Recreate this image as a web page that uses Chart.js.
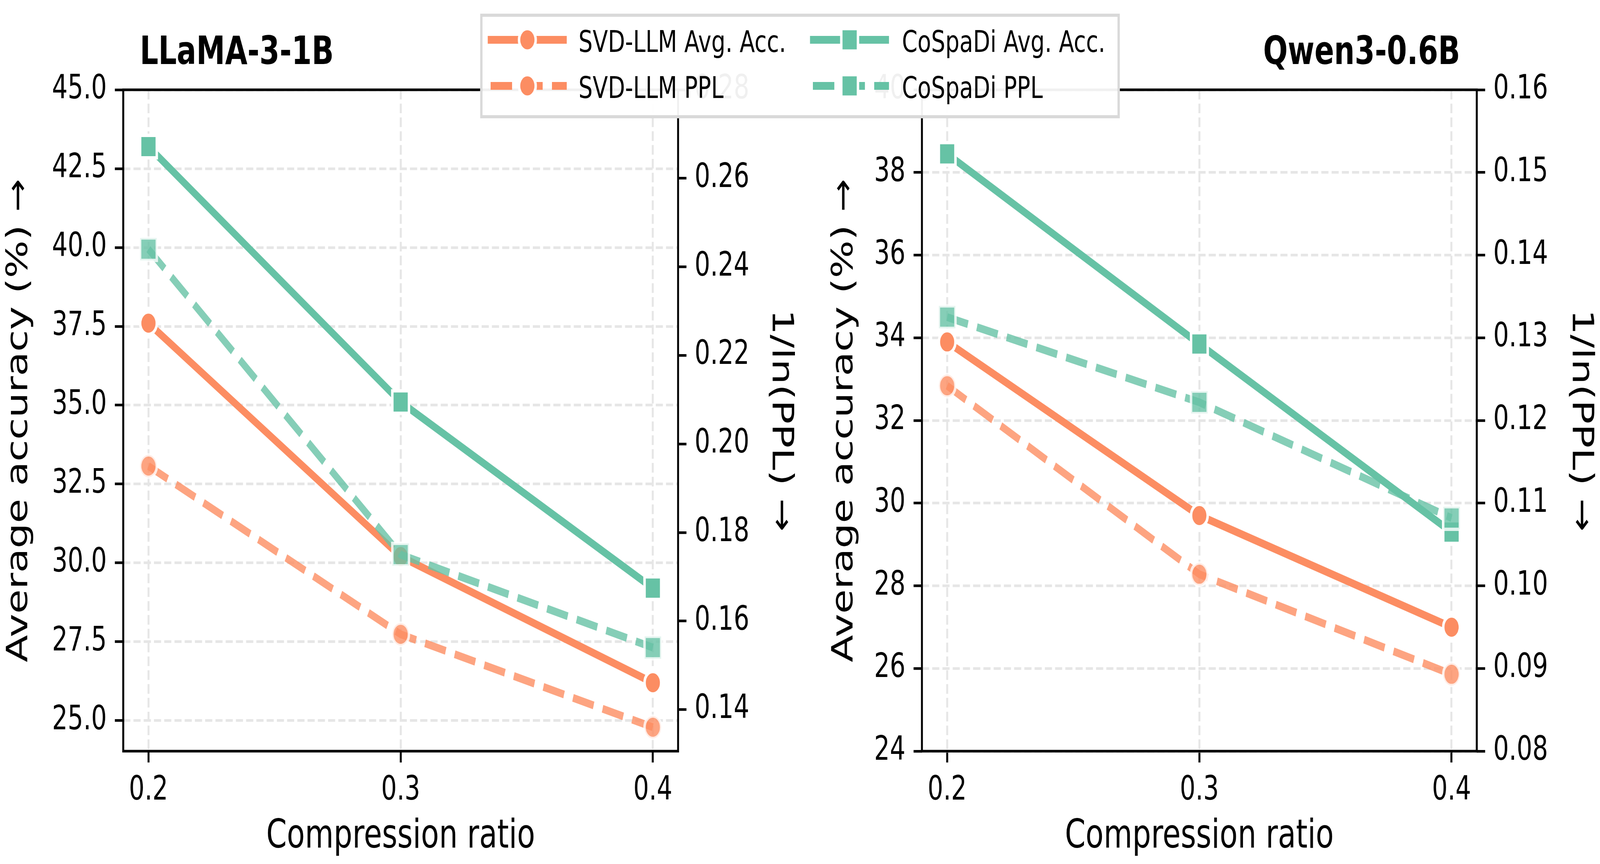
<!DOCTYPE html>
<html>
<head>
<meta charset="utf-8">
<script src="https://cdn.jsdelivr.net/npm/chart.js@4.4.1/dist/chart.umd.min.js"></script>
<style>
  html, body { margin: 0; padding: 0; background: #fff; overflow: hidden; }
  #fig { position: relative; width: 5531px; height: 2213px; overflow: hidden; transform-origin: 0 0; }
  #fig canvas { position: absolute; top: 0; }
  #leyenda { position: absolute; left: 1660px; top: 35px; width: 2211px; height: 268px; box-sizing: border-box;
             border: 8px solid #d9d9d9; background: rgba(255,255,255,0.94); z-index: 2; }
  .etq { position: absolute; font-family: "DejaVu Sans"; font-size: 77px; line-height: 1; white-space: nowrap;
         transform: translateY(-50%); color: #000; z-index: 3; }
  .asa { position: absolute; z-index: 3; }
</style>
</head>
<body>
<div id="fig">
  <canvas id="llama" width="2765" height="2213" style="left:0px"></canvas>
  <canvas id="qwen" width="2766" height="2213" style="left:2765px"></canvas>
  <div id="leyenda"></div>
</div>
<script>
// Datos
const ratios = [0.2, 0.3, 0.4];
const xTicks = [0.2, 0.3, 0.4];

// LLaMA-3-1B
const llamaSvdAcc = [37.6, 30.2, 26.2];
const llamaCospadiAcc = [43.2, 35.1, 29.2];
const llamaSvdPpl = [0.195, 0.157, 0.136];
const llamaCospadiPpl = [0.244, 0.175, 0.154];
const llamaAccTicks = [25, 27.5, 30, 32.5, 35, 37.5, 40, 42.5, 45];
const llamaPplTicks = [0.14, 0.16, 0.18, 0.20, 0.22, 0.24, 0.26, 0.28];

// Qwen3-0.6B
const qwenSvdAcc = [33.9, 29.7, 27.0];
const qwenCospadiAcc = [38.45, 33.85, 29.3];
const qwenSvdPpl = [0.1242, 0.1014, 0.0893];
const qwenCospadiPpl = [0.1325, 0.1222, 0.1082];
const qwenAccTicks = [24, 26, 28, 30, 32, 34, 36, 38, 40];
const qwenPplTicks = [0.08, 0.09, 0.10, 0.11, 0.12, 0.13, 0.14, 0.15, 0.16];

const nombres = ['SVD-LLM Avg. Acc.', 'SVD-LLM PPL', 'CoSpaDi Avg. Acc.', 'CoSpaDi PPL'];

const naranja = '#fc8d62';
const verde = '#66c2a5';
const LW = 20;
const DASH = [74, 32];

// la figura se dibuja a 5531x2213 y se ajusta a toda la ventana
const sx = window.innerWidth / 5531;
const sy = window.innerHeight / 2213;
document.getElementById('fig').style.transform = `scale(${sx}, ${sy})`;

Chart.defaults.font.family = '"DejaVu Sans", sans-serif';
Chart.defaults.color = '#000';

function conAlfa(hex, a) {
    const n = parseInt(hex.slice(1), 16);
    return `rgba(${(n >> 16) & 255},${(n >> 8) & 255},${n & 255},${a})`;
}

// --- Una serie (linea + marcadores) ---
function serie(label, valores, color, estilo, eje, ppl, orden) {
    const a = ppl ? 0.8 : 1;
    return {
        label,
        data: ratios.map((r, i) => ({ x: r, y: valores[i] })),
        yAxisID: eje,
        borderColor: conAlfa(color, a),
        borderWidth: LW,
        borderDash: ppl ? DASH : [],
        borderCapStyle: ppl ? 'butt' : 'square',
        borderJoinStyle: 'round',
        tension: 0,
        pointStyle: estilo,
        pointRadius: estilo === 'rect' ? 40.7 : 28.75,
        pointHoverRadius: estilo === 'rect' ? 40.7 : 28.75,
        pointBorderWidth: 8.5,
        pointBackgroundColor: conAlfa(color, a),
        pointBorderColor: `rgba(255,255,255,${a})`,
        clip: false,
        order: orden
    };
}

// --- Marco de los ejes (spines) ---
const marco = {
    id: 'marco',
    afterDatasetsDraw(chart) {
        const { ctx, chartArea: c } = chart;
        ctx.save();
        ctx.lineWidth = 6.7;
        ctx.strokeStyle = '#000';
        ctx.strokeRect(c.left, c.top, c.right - c.left, c.bottom - c.top);
        ctx.restore();
    }
};

function tituloPanel(texto, lado) {
    return {
        id: 'titulo',
        afterDraw(chart) {
            const { ctx, chartArea: c } = chart;
            const w = c.right - c.left;
            ctx.save();
            ctx.font = 'bold 100px "DejaVu Sans"';
            ctx.fillStyle = '#000';
            ctx.textBaseline = 'alphabetic';
            if (lado === 'izq') { ctx.textAlign = 'left'; ctx.fillText(texto, c.left + 0.03 * w, 164); }
            else { ctx.textAlign = 'right'; ctx.fillText(texto, c.right - 0.03 * w, 164); }
            ctx.restore();
        }
    };
}

function ejeY(pos, min, max, marcas, fmt, ancho, titulo, padTitulo) {
    return {
        type: 'linear',
        position: pos,
        min, max,
        bounds: 'data',
        afterBuildTicks: s => { s.ticks = marcas.map(v => ({ value: v })); },
        afterFit: s => { s.width = ancho; },
        ticks: { font: { size: 85, lineHeight: 1.2 }, color: '#000', padding: 28, callback: v => v.toFixed(fmt) },
        grid: { display: true, drawOnChartArea: pos === 'left', color: '#e6e6e6', lineWidth: 6.7,
                tickLength: 29, tickWidth: 6.7, tickColor: '#000' },
        border: { display: false, dash: [24.7, 10.7] },
        title: { display: true, text: titulo, font: { size: 102, lineHeight: 1.2 }, color: '#000',
                 padding: { top: padTitulo, bottom: 0 } }
    };
}

function panel(id, cfg) {
    const anchoCanvas = document.getElementById(id).width;
    return new Chart(document.getElementById(id), {
        type: 'line',
        data: {
            datasets: [
                serie(nombres[0], cfg.svdAcc, naranja, 'circle', 'y', false, 4),
                serie(nombres[2], cfg.cosAcc, verde, 'rect', 'y', false, 3),
                serie(nombres[1], cfg.svdPpl, naranja, 'circle', 'y1', true, 2),
                serie(nombres[3], cfg.cosPpl, verde, 'rect', 'y1', true, 1)
            ]
        },
        options: {
            responsive: false,
            animation: false,
            devicePixelRatio: 1,
            events: [],
            layout: { padding: { top: 230, left: 0, right: 0, bottom: 0 } },
            plugins: { legend: { display: false }, tooltip: { enabled: false } },
            scales: {
                x: {
                    type: 'linear', min: 0.19, max: 0.41, bounds: 'data',
                    afterBuildTicks: s => { s.ticks = xTicks.map(v => ({ value: v })); },
                    afterFit: s => { s.height = 289; },
                    ticks: { font: { size: 85, lineHeight: 1.2 }, color: '#000', padding: 22, maxRotation: 0,
                             callback: v => v.toFixed(1) },
                    grid: { color: '#e6e6e6', lineWidth: 6.7, tickLength: 29, tickWidth: 6.7, tickColor: '#000' },
                    border: { display: false, dash: [24.7, 10.7] },
                    title: { display: true, text: 'Compression ratio', font: { size: 102, lineHeight: 1.2 },
                             color: '#000', padding: { top: 0, bottom: 7 } }
                },
                y: ejeY('left', cfg.accMin, cfg.accMax, cfg.accTicks, cfg.accFmt, cfg.anchoIzq,
                        'Average accuracy (%) →', cfg.padIzq),
                y1: ejeY('right', cfg.pplMin, cfg.pplMax, cfg.pplTicks, 2, anchoCanvas - cfg.derecha,
                         '1/ln(PPL) →', 6)
            }
        },
        plugins: [marco, tituloPanel(cfg.titulo, cfg.lado)]
    });
}

panel('llama', {
    titulo: 'LLaMA-3-1B', lado: 'izq',
    svdAcc: llamaSvdAcc, cosAcc: llamaCospadiAcc, svdPpl: llamaSvdPpl, cosPpl: llamaCospadiPpl,
    accMin: 24.03, accMax: 45, accTicks: llamaAccTicks, accFmt: 1,
    pplMin: 0.1306, pplMax: 0.28, pplTicks: llamaPplTicks,
    anchoIzq: 426, derecha: 2344, padIzq: 6
});

panel('qwen', {
    titulo: 'Qwen3-0.6B', lado: 'der',
    svdAcc: qwenSvdAcc, cosAcc: qwenCospadiAcc, svdPpl: qwenSvdPpl, cosPpl: qwenCospadiPpl,
    accMin: 24, accMax: 40, accTicks: qwenAccTicks, accFmt: 0,
    pplMin: 0.08, pplMax: 0.16, pplTicks: qwenPplTicks,
    anchoIzq: 422, derecha: 2340, padIzq: 94
});

// --- Leyenda compartida ---
function entradaLeyenda(texto, color, estilo, ppl, x0, x1, xm, yc, xt) {
    const fig = document.getElementById('fig');
    const cv = document.createElement('canvas');
    cv.className = 'asa';
    cv.width = x1 - x0 + 20; cv.height = 90;
    cv.style.left = (x0 - 10) + 'px'; cv.style.top = (yc - 45) + 'px';
    fig.appendChild(cv);
    const ctx = cv.getContext('2d');
    ctx.strokeStyle = color;
    ctx.lineWidth = LW;
    ctx.lineCap = 'butt';
    if (ppl) { ctx.setLineDash(DASH); ctx.lineDashOffset = 96; }
    ctx.beginPath(); ctx.moveTo(10, 45); ctx.lineTo(x1 - x0 + 10, 45); ctx.stroke();
    ctx.setLineDash([]);
    ctx.fillStyle = color;
    ctx.strokeStyle = '#fff';
    ctx.lineWidth = 8.5;
    const cx = xm - x0 + 10;
    ctx.beginPath();
    if (estilo === 'circle') ctx.arc(cx, 45, 28.75, 0, Math.PI * 2);
    else ctx.rect(cx - 28.75, 45 - 28.75, 57.5, 57.5);
    ctx.fill(); ctx.stroke();

    const t = document.createElement('div');
    t.className = 'etq';
    t.textContent = texto;
    t.style.left = xt + 'px';
    t.style.top = (yc + 4) + 'px';
    fig.appendChild(t);
}

entradaLeyenda(nombres[0], naranja, 'circle', false, 1686, 1959, 1823, 102, 2000);
entradaLeyenda(nombres[1], naranja, 'circle', true, 1686, 1959, 1823, 220, 2000);
entradaLeyenda(nombres[2], verde, 'rect', false, 2800, 3073, 2937, 102, 3118);
entradaLeyenda(nombres[3], verde, 'rect', true, 2800, 3073, 2937, 220, 3118);
</script>
</body>
</html>
